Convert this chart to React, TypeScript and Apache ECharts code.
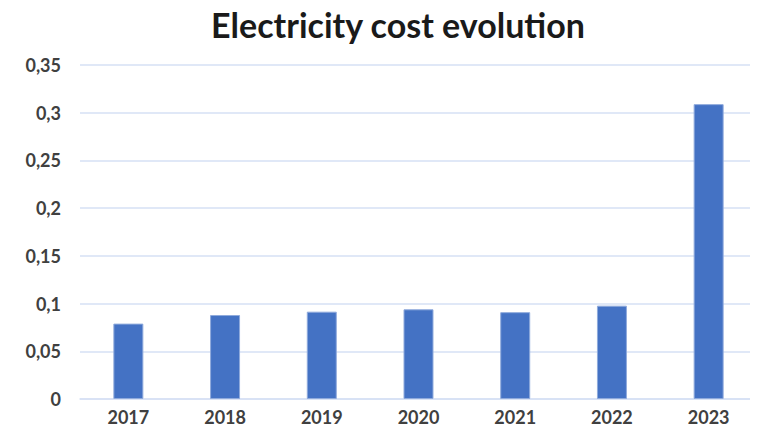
import React, { useEffect, useRef } from "react";
import * as echarts from "echarts";

const years = ["2017", "2018", "2019", "2020", "2021", "2022", "2023"];
const costs = [0.079, 0.088, 0.0915, 0.094, 0.091, 0.0978, 0.309];

export default function App() {
  const ref = useRef<HTMLDivElement>(null);
  useEffect(() => {
    const chart = echarts.init(ref.current!, null, { renderer: "svg" });
    chart.setOption({
      animation: false,
      title: {
        text: "Electricity cost evolution",
        left: 393,
        textAlign: "center",
        top: 2,
        textStyle: { fontFamily: "Lato", fontWeight: "bold", fontSize: 34, color: "#1a1a1a" },
      },
      grid: { left: 80, right: 1, top: 65, bottom: 34, containLabel: false },
      xAxis: {
        type: "category",
        data: years,
        axisLine: { show: true, lineStyle: { color: "#D6E0F5", width: 1.5 } },
        axisTick: { show: false },
        axisLabel: {
          color: "#404040",
          fontFamily: "Lato",
          fontWeight: "bold",
          fontSize: 18,
          margin: 9,
        },
      },
      yAxis: {
        type: "value",
        min: 0,
        max: 0.35,
        interval: 0.05,
        axisLine: { show: false },
        axisTick: { show: false },
        splitLine: { lineStyle: { color: "#D6E0F5", width: 1.5 } },
        axisLabel: {
          color: "#404040",
          fontFamily: "Lato",
          fontWeight: "bold",
          fontSize: 18,
          margin: 19,
          formatter: (v: number) => String(Math.round(v * 100) / 100).replace(".", ","),
        },
      },
      series: [
        {
          type: "bar",
          data: costs,
          barWidth: "31%",
          itemStyle: { color: "#4472C4", borderColor: "#8FAADC", borderWidth: 1 },
        },
      ],
    });
    return () => chart.dispose();
  }, []);
  return <div ref={ref} style={{ width: 758, height: 433, margin: -8 }} />;
}
